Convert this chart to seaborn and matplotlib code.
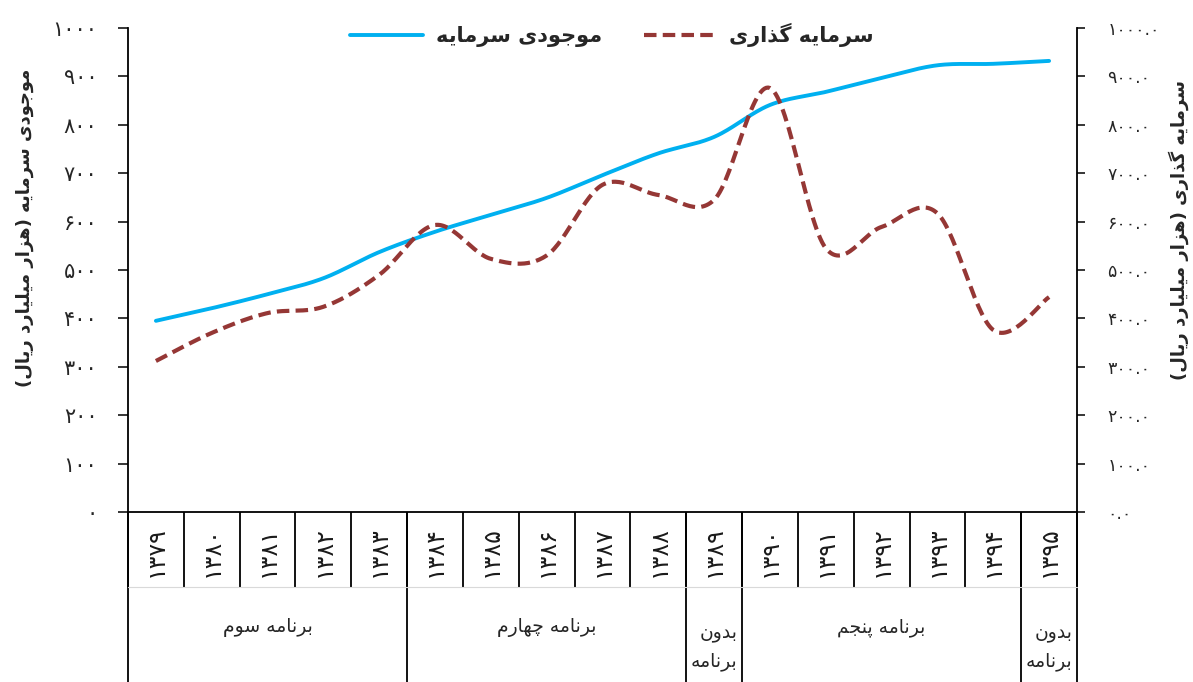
import numpy as np
import pandas as pd
import matplotlib
matplotlib.use("Agg")
import matplotlib.pyplot as plt
import seaborn as sns

# داده ها
years = ["۱۳۷۹", "۱۳۸۰", "۱۳۸۱", "۱۳۸۲", "۱۳۸۳", "۱۳۸۴", "۱۳۸۵", "۱۳۸۶", "۱۳۸۷",
         "۱۳۸۸", "۱۳۸۹", "۱۳۹۰", "۱۳۹۱", "۱۳۹۲", "۱۳۹۳", "۱۳۹۴", "۱۳۹۵"]
capital_stock = [395, 421, 450, 483, 537, 579, 614, 649, 696, 741, 775, 841, 868, 897, 923, 926, 932]
investment = [312, 370, 411, 424, 490, 593, 523, 530, 676, 655, 645, 876, 545, 589, 617, 376, 444]
plan_names = ["برنامه سوم", "برنامه چهارم", "بدون\nبرنامه", "برنامه پنجم", "بدون\nبرنامه"]
plan_sizes = [5, 5, 1, 5, 1]
left_ticks = ["۰", "۱۰۰", "۲۰۰", "۳۰۰", "۴۰۰", "۵۰۰", "۶۰۰", "۷۰۰", "۸۰۰", "۹۰۰", "۱۰۰۰"]
right_ticks = ["۰.۰", "۱۰۰.۰", "۲۰۰.۰", "۳۰۰.۰", "۴۰۰.۰", "۵۰۰.۰", "۶۰۰.۰", "۷۰۰.۰",
               "۸۰۰.۰", "۹۰۰.۰", "۱۰۰۰.۰"]
name_stock = "موجودی سرمایه"
name_invest = "سرمایه گذاری"
left_title = "موجودی سرمایه (هزار میلیارد ریال)"
right_title = "سرمایه گذاری (هزار میلیارد ریال)"

# matplotlib متن عربی را شکل نمی دهد: فرم های نمایشی + راست به چپ
FORMS = {
    "ا": ("\ufe8d", "\ufe8e", None, None),
    "ب": ("\ufe8f", "\ufe90", "\ufe91", "\ufe92"),
    "پ": ("\ufb56", "\ufb57", "\ufb58", "\ufb59"),
    "ج": ("\ufe9d", "\ufe9e", "\ufe9f", "\ufea0"),
    "چ": ("\ufb7a", "\ufb7b", "\ufb7c", "\ufb7d"),
    "د": ("\ufea9", "\ufeaa", None, None),
    "ذ": ("\ufeab", "\ufeac", None, None),
    "ر": ("\ufead", "\ufeae", None, None),
    "ز": ("\ufeaf", "\ufeb0", None, None),
    "س": ("\ufeb1", "\ufeb2", "\ufeb3", "\ufeb4"),
    "گ": ("\ufb92", "\ufb93", "\ufb94", "\ufb95"),
    "ل": ("\ufedd", "\ufede", "\ufedf", "\ufee0"),
    "م": ("\ufee1", "\ufee2", "\ufee3", "\ufee4"),
    "ن": ("\ufee5", "\ufee6", "\ufee7", "\ufee8"),
    "ه": ("\ufee9", "\ufeea", "\ufeeb", "\ufeec"),
    "و": ("\ufeed", "\ufeee", None, None),
    "ی": ("\ufbfc", "\ufbfd", "\ufbfe", "\ufbff"),
}
MIRROR = {"(": ")", ")": "("}


def fa_line(s):
    out = []
    for i, c in enumerate(s):
        if c not in FORMS:
            out.append(MIRROR.get(c, c))
            continue
        prev = s[i - 1] if i > 0 else ""
        nxt = s[i + 1] if i + 1 < len(s) else ""
        join_prev = prev in FORMS and FORMS[prev][2] is not None
        join_next = nxt in FORMS and FORMS[c][2] is not None
        iso, fin, ini, med = FORMS[c]
        if join_prev and join_next:
            out.append(med)
        elif join_prev:
            out.append(fin)
        elif join_next:
            out.append(ini)
        else:
            out.append(iso)
    return "".join(out[::-1])


def fa(s):
    return "\n".join(fa_line(l) for l in s.split("\n"))


# خط نرم مانند اکسل (کتمول-رام)
def smooth(xs, ys, n=30):
    p = np.column_stack([xs, ys]).astype(float)
    p = np.vstack([p[0], p, p[-1]])
    t = np.linspace(0, 1, n, endpoint=False)[:, None]
    segs = []
    for i in range(1, len(p) - 2):
        p0, p1, p2, p3 = p[i - 1], p[i], p[i + 1], p[i + 2]
        segs.append(0.5 * (2 * p1 + (p2 - p0) * t + (2 * p0 - 5 * p1 + 4 * p2 - p3) * t ** 2
                           + (-p0 + 3 * p1 - 3 * p2 + p3) * t ** 3))
    segs.append(p[-2][None])
    pts = np.vstack(segs)
    return pd.DataFrame({"x": pts[:, 0], "y": pts[:, 1]})


sns.set_style("white")
plt.rcParams["font.family"] = ["DejaVu Sans"]

W, H = 1193, 682
fig = plt.figure(figsize=(W / 100, H / 100), dpi=100)
ax = fig.add_axes([128 / W, 170 / H, 949 / W, 484 / H])
ax2 = ax.twinx()

xs = np.arange(len(years))
d1 = smooth(xs, capital_stock)
d2 = smooth(xs, investment)
sns.lineplot(data=d1, x="x", y="y", sort=False, estimator=None, ax=ax,
             color="#00B0F0", lw=2.8, label=fa(name_stock), legend=False)
sns.lineplot(data=d2, x="x", y="y", sort=False, estimator=None, ax=ax2,
             color="#953735", lw=3, linestyle=(0, (3.0, 1.5)), label=fa(name_invest), legend=False)

for a in (ax, ax2):
    a.set_xlim(-0.5, len(years) - 0.5)
    a.set_ylim(0, 1000)
    a.set_xlabel("")
    a.set_ylabel("")
    a.spines["top"].set_visible(False)
    for sp in a.spines.values():
        sp.set_linewidth(1.3)
        sp.set_color("black")

ax.spines["right"].set_visible(False)
ax2.spines["left"].set_visible(False)
ax2.spines["bottom"].set_visible(False)

ax.set_yticks(range(0, 1001, 100))
ax.set_yticklabels(left_ticks)
ax.tick_params(axis="y", direction="out", length=7, width=1.3, pad=15, labelsize=15, left=True)
ax2.set_yticks(range(0, 1001, 100))
ax2.set_yticklabels(right_ticks)
ax2.tick_params(axis="y", direction="out", length=6, width=1.3, pad=16, labelsize=12.5, right=True)

ax.set_xticks(xs)
ax.set_xticklabels(years, rotation=90, fontsize=17, color="#1a1a1a")
ax.tick_params(axis="x", length=0, pad=10)

# جدول زیر محور
trans = ax.get_xaxis_transform()
bounds = np.arange(len(years) + 1) - 0.5
ax.vlines(bounds, -0.155, 0, transform=trans, clip_on=False, color="black", lw=1.3)
edges = np.concatenate([[0], np.cumsum(plan_sizes)]) - 0.5
ax.vlines(edges, -0.36, 0, transform=trans, clip_on=False, color="black", lw=1.3)
ax.plot([-0.5, len(years) - 0.5], [-0.155, -0.155], transform=trans, clip_on=False,
        color="#d9d9d9", lw=0.8)
for name, lo, hi in zip(plan_names, edges[:-1], edges[1:]):
    two = "\n" in name
    ax.text((lo + hi) / 2, -0.279 if two else -0.238, fa(name), transform=trans,
            ha="center", va="center", fontsize=13.5, linespacing=1.65,
            multialignment="right")

fig.text(25 / W, 1 - 228 / H, fa(left_title), rotation=90, ha="center", va="center",
         fontsize=13, fontweight="bold")
fig.text(1179 / W, 1 - 230 / H, fa(right_title), rotation=90, ha="center", va="center",
         fontsize=13, fontweight="bold")

handles = [ax.get_lines()[0], ax2.get_lines()[0]]
fig.legend(handles, [fa(name_stock), fa(name_invest)], loc="center",
           bbox_to_anchor=(612 / W, 1 - 35 / H), ncol=2, frameon=False,
           prop={"size": 15, "weight": "bold"}, handlelength=3.5, columnspacing=2.0,
           handletextpad=0.6)

fig.savefig("out.png", dpi=100)
